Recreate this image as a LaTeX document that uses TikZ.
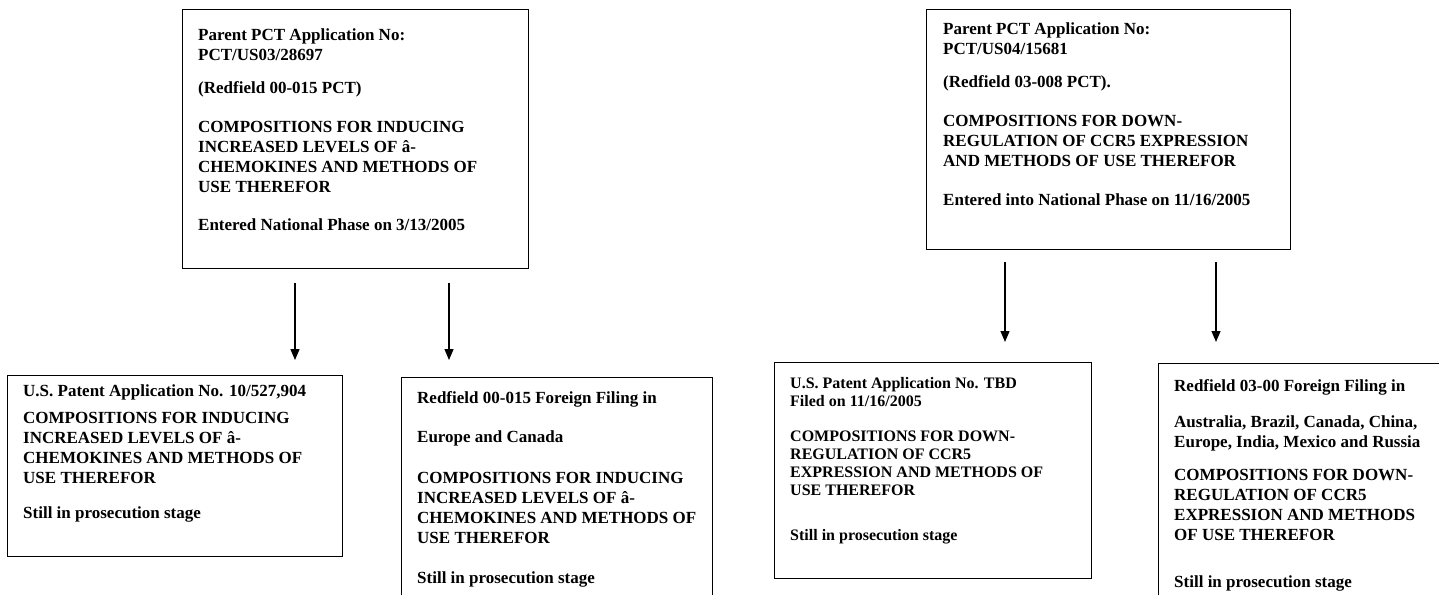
\documentclass[tikz,border=0pt]{standalone}
\usepackage{fontspec}
\setmainfont{Liberation Serif}
\usetikzlibrary{arrows.meta,calc}
\begin{document}
\begin{tikzpicture}[x=1pt,y=-1pt,
  pbox/.style={draw, line width=1.3pt, anchor=north west, inner sep=0pt},
  ptext/.style={anchor=north west, inner sep=0pt, align=left,
    font=\fontsize{17}{20}\selectfont\bfseries},
  ptextsm/.style={ptext, font=\fontsize{16}{18}\selectfont\bfseries},
  arr/.style={line width=1.3pt, -{Triangle[width=9pt,length=11pt]}}]
\useasboundingbox (0,0) rectangle (1439,594);

% parent boxes
\node[pbox, minimum width=346pt, minimum height=259pt] (A) at (182,9) {};
\node[ptext] (At) at (198,29) {Parent PCT Application No:\\PCT/US03/28697\\[13pt]
(Redfield 00-015 PCT)\\[19pt]
COMPOSITIONS FOR INDUCING\\INCREASED LEVELS OF â-\\CHEMOKINES AND METHODS OF\\USE THEREFOR\\[18pt]
Entered National Phase on 3/13/2005};

\node[pbox, minimum width=364pt, minimum height=240pt] (B) at (926,9) {};
\node[ptext] (Bt) at (943,23) {Parent PCT Application No:\\PCT/US04/15681\\[13pt]
(Redfield 03-008 PCT).\\[19pt]
COMPOSITIONS FOR DOWN-\\REGULATION OF CCR5 EXPRESSION\\AND METHODS OF USE THEREFOR\\[19pt]
Entered into National Phase on 11/16/2005};

% child boxes
\node[pbox, minimum width=335pt, minimum height=181pt] (C) at (7,375) {};
\node[ptext] (Ct) at (23,384) {U.S. Patent Application No. 10/527,904\\[7pt]
COMPOSITIONS FOR INDUCING\\INCREASED LEVELS OF â-\\CHEMOKINES AND METHODS OF\\USE THEREFOR\\[15pt]
Still in prosecution stage};

\node[pbox, minimum width=311pt, minimum height=240pt] (D) at (401,377) {};
\node[ptext] (Dt) at (417,391) {Redfield 00-015 Foreign Filing in\\[19pt]
Europe and Canada\\[21pt]
COMPOSITIONS FOR INDUCING\\INCREASED LEVELS OF â-\\CHEMOKINES AND METHODS OF\\USE THEREFOR\\[20pt]
Still in prosecution stage};

\node[pbox, minimum width=317pt, minimum height=216pt] (E) at (774,362) {};
\node[ptextsm] (Et) at (790,377) {U.S. Patent Application No. TBD\\Filed on 11/16/2005\\[17pt]
COMPOSITIONS FOR DOWN-\\REGULATION OF CCR5\\EXPRESSION AND METHODS OF\\USE THEREFOR\\[27pt]
Still in prosecution stage};

\node[pbox, minimum width=290pt, minimum height=250pt] (F) at (1158,363) {};
\node[ptext] (Ft) at (1174,379) {Redfield 03-00 Foreign Filing in\\[16pt]
Australia, Brazil, Canada, China,\\Europe, India, Mexico and Russia\\[13pt]
COMPOSITIONS FOR DOWN-\\REGULATION OF CCR5\\EXPRESSION AND METHODS\\OF USE THEREFOR\\[27pt]
Still in prosecution stage};

% arrows
\coordinate (x1) at (295,0);
\coordinate (x2) at (449,0);
\coordinate (x3) at (1005,0);
\coordinate (x4) at (1216,0);
\draw[arr, shorten <=14pt, shorten >=15pt] (A.south -| x1) -- (C.north -| x1);
\draw[arr, shorten <=14pt, shorten >=17pt] (A.south -| x2) -- (D.north -| x2);
\draw[arr, shorten <=12pt, shorten >=20pt] (B.south -| x3) -- (E.north -| x3);
\draw[arr, shorten <=12pt, shorten >=21pt] (B.south -| x4) -- (F.north -| x4);
\end{tikzpicture}
\end{document}
